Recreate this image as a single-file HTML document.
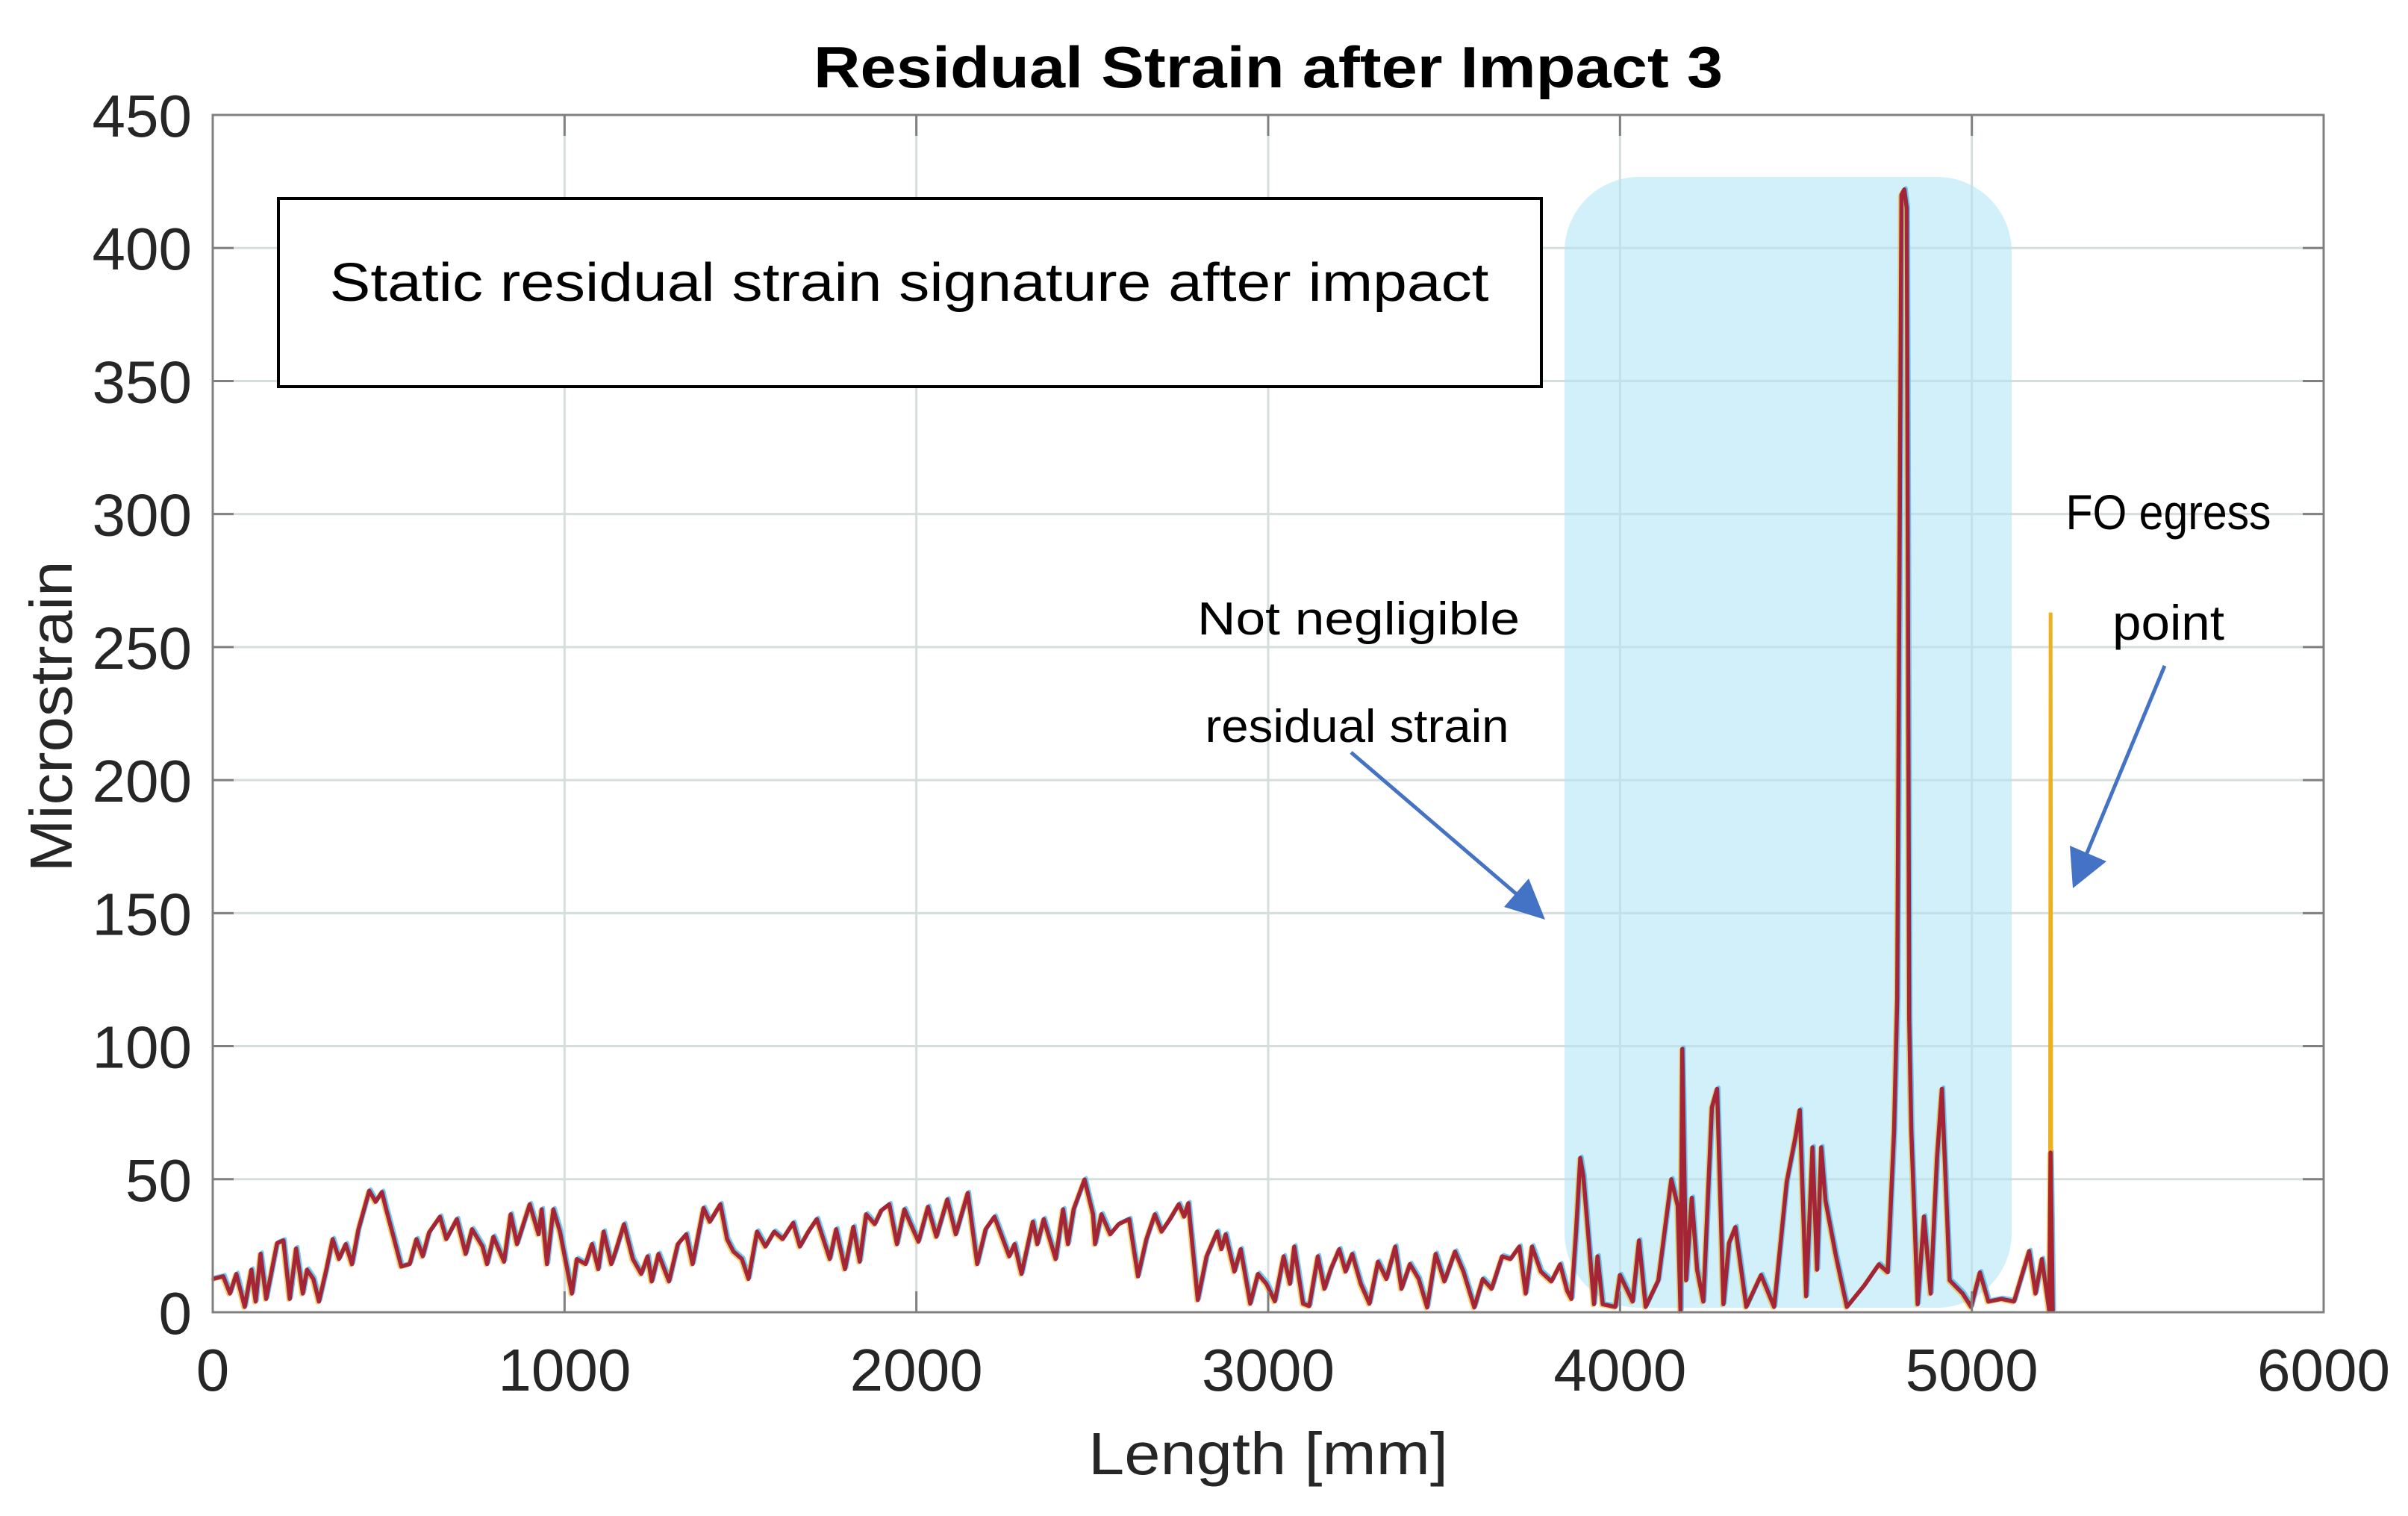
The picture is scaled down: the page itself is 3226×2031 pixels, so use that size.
<!DOCTYPE html>
<html><head><meta charset="utf-8"><style>
html,body{margin:0;padding:0;background:#fff}
svg{display:block}
text{font-family:"Liberation Sans",sans-serif}
</style></head><body>
<svg id="chart" width="3226" height="2031" viewBox="0 0 3226 2031" xmlns="http://www.w3.org/2000/svg">
<rect width="3226" height="2031" fill="#fff"/>
<g id="grid"></g>
<rect x="2096" y="237" width="599" height="1515" rx="100" ry="100" fill="#cdeef9" opacity="0.9"/>
<g id="gridover" opacity="0.2"></g>
<g id="series"></g>
<rect x="285" y="154" width="2828" height="1604" fill="none" stroke="#808080" stroke-width="3"/>
<g id="ticks"></g>
<text x="1699" y="117" text-anchor="middle" font-size="78" font-weight="bold" textLength="1218" lengthAdjust="spacingAndGlyphs">Residual Strain after Impact 3</text>
<text x="1699" y="1975" text-anchor="middle" font-size="80" fill="#262626" textLength="482" lengthAdjust="spacingAndGlyphs">Length [mm]</text>
<text transform="translate(96,960) rotate(-90)" text-anchor="middle" font-size="80" fill="#262626" textLength="417" lengthAdjust="spacingAndGlyphs">Microstrain</text>
<g>
<rect x="373" y="266" width="1692" height="252" fill="#fff" stroke="#000" stroke-width="4"/>
<text x="1218" y="403" text-anchor="middle" font-size="72" textLength="1553" lengthAdjust="spacingAndGlyphs">Static residual strain signature after impact</text>
</g>
<text x="1820" y="850" text-anchor="middle" font-size="62" textLength="432" lengthAdjust="spacingAndGlyphs">Not negligible</text>
<text x="1818" y="994" text-anchor="middle" font-size="62" textLength="407" lengthAdjust="spacingAndGlyphs">residual strain</text>
<text x="2905" y="709" text-anchor="middle" font-size="66" textLength="275" lengthAdjust="spacingAndGlyphs">FO egress</text>
<text x="2905" y="857" text-anchor="middle" font-size="66" textLength="150" lengthAdjust="spacingAndGlyphs">point</text>
<g>
<line x1="1810" y1="1008" x2="2040" y2="1205" stroke="#4472c4" stroke-width="5"/>
<polygon points="2070,1232 2015,1215 2048,1177" fill="#4472c4"/>
</g>
<g>
<line x1="2900" y1="892" x2="2795" y2="1145" stroke="#4472c4" stroke-width="5"/>
<polygon points="2777,1190 2773,1133 2822,1154" fill="#4472c4"/>
</g>
</svg>
<script>
const xTicks=[0,1000,2000,3000,4000,5000,6000];
const yTicks=[0,50,100,150,200,250,300,350,400,450];
const lengthMm=[0,30,49,67,91,110,122,136,152,183,201,219,237,256,268,286,302,323,341,359,378,396,414,445,463,481,493,512,536,560,579,597,615,646,664,694,719,737,767,780,798,828,847,865,901,926,935,950,968,987,1021,1035,1060,1078,1096,1111,1133,1145,1169,1194,1218,1236,1248,1267,1297,1322,1346,1364,1395,1413,1443,1462,1480,1504,1523,1547,1571,1596,1620,1650,1669,1693,1717,1754,1772,1797,1821,1839,1857,1882,1900,1923,1945,1966,1984,2006,2033,2057,2088,2112,2146,2173,2197,2222,2246,2264,2279,2299,2331,2344,2362,2396,2417,2431,2447,2478,2502,2508,2526,2551,2575,2605,2630,2654,2678,2697,2721,2746,2761,2773,2800,2825,2855,2867,2879,2904,2922,2949,2971,2995,3019,3044,3062,3074,3099,3117,3141,3160,3178,3202,3220,3239,3263,3288,3312,3336,3361,3379,3403,3428,3452,3476,3501,3531,3555,3586,3610,3635,3665,3689,3714,3732,3750,3775,3805,3830,3850,3862,3875,3887,3896,3926,3936,3951,3987,4000,4036,4054,4073,4109,4146,4164,4172,4177,4188,4204,4219,4237,4261,4276,4294,4310,4328,4359,4401,4438,4474,4499,4511,4529,4547,4560,4572,4584,4614,4645,4694,4736,4761,4779,4788,4800,4808,4815,4822,4828,4846,4864,4883,4901,4915,4937,4974,4998,5023,5047,5084,5120,5163,5181,5199,5220,5224,5230];
const strain=[12.5,13.5,7,14.4,2,16,4,22,5,26,27,5,24,7,16,12.5,4,16,27.5,20,25.6,18,31,45.7,41.5,45.2,38.7,29.3,17.2,18.1,27.5,21,30,35.9,27.5,35,21.9,31.2,24.7,18.1,28.4,19,36.8,25.6,40.6,29.3,38.7,18.1,38.7,30.3,7,20,18.1,25.6,16.2,30.3,18.1,22.8,33.1,20,14.4,21,11.6,21.9,11.6,25.6,29.3,18.1,39.2,34,40.6,27.5,22.8,20,12.5,30.3,24.7,30.3,27.5,33.6,24.7,30.3,35,20,31.2,16.2,32.1,19,36.8,33.1,38.2,40.6,25.6,38.7,33.1,26.5,39.6,28.4,42.4,29.3,44.8,18.1,31.2,35.9,27.5,21,25.6,14.4,34,25.6,35,20,38.7,25.6,38.7,49.9,36.8,25.6,36.8,29.3,33.1,35,13.5,27.5,36.8,30.3,35,40.6,35.9,41,4.6,21,30.3,23.7,29.3,15.3,23.7,3.2,14.4,10.7,4.1,21,10.7,24.7,3.2,2.3,21,8.8,16.2,23.7,15.3,21.9,10.7,3.2,19,12.5,24.7,8.8,18.1,12.5,1.8,21.9,11.6,22.8,15.3,1.8,12.5,8.8,21,20,24.7,7,24.7,15.3,11.6,18,8,5,30,58,51,3,21,3,2,14,4,27,2,12,50,40,0.5,99,12,43,16,4,77,84,3,26,32,2,14,2,49,66,76,6,62,16,62,42,21,2,10,18,15,68,118,420,422,415,110,68,3,36,7,58,84,12,7,2,15,4,5,4,23,7,20,0.5,60,0];
const egressMm=[5222,5224,5226];
const egressStrain=[5,263,0];
const L=285,R=3113,T=154,B=1758;
const xs=v=>L+(v-0)/(6000-0)*(R-L);
const ys=v=>B-(v-0)/(450-0)*(B-T);
const NS="http://www.w3.org/2000/svg";
function mk(tag,attrs,parent){const e=document.createElementNS(NS,tag);for(const k in attrs)e.setAttribute(k,attrs[k]);parent.appendChild(e);return e;}
const grid=document.getElementById('grid'),gov=document.getElementById('gridover'),ticks=document.getElementById('ticks'),series=document.getElementById('series');
xTicks.forEach(t=>{
  const g=mk('line',{x1:xs(t),x2:xs(t),y1:T,y2:B,stroke:'#ebebeb','stroke-width':3},grid);
  
  
  mk('line',{x1:xs(t),x2:xs(t),y1:T,y2:B,stroke:'#8aa','stroke-width':3},gov);
  const a=mk('line',{x1:xs(t),x2:xs(t),y1:B,y2:B-28,stroke:'#808080','stroke-width':3},ticks);
  
  
  mk('line',{x1:xs(t),x2:xs(t),y1:T,y2:T+28,stroke:'#808080','stroke-width':3},ticks);
  const tx=mk('text',{x:xs(t),y:1863,'text-anchor':'middle','font-size':80,fill:'#262626'},ticks);
  tx.textContent=t;
  
  
});
yTicks.forEach(t=>{
  const g=mk('line',{x1:L,x2:R,y1:ys(t),y2:ys(t),stroke:'#ebebeb','stroke-width':3},grid);
  
  
  mk('line',{x1:L,x2:R,y1:ys(t),y2:ys(t),stroke:'#8aa','stroke-width':3},gov);
  const a=mk('line',{x1:L,x2:L+28,y1:ys(t),y2:ys(t),stroke:'#808080','stroke-width':3},ticks);
  
  
  mk('line',{x1:R,x2:R-28,y1:ys(t),y2:ys(t),stroke:'#808080','stroke-width':3},ticks);
  const tx=mk('text',{x:257,y:ys(t)+29,'text-anchor':'end','font-size':80,fill:'#262626'},ticks);
  tx.textContent=t;
  
  
});
function pts(xa,ya,dx,dy){return xa.map((v,i)=>(xs(v)+dx).toFixed(1)+','+(ys(ya[i])+dy).toFixed(1)).join(' ');}
const s1=mk('polyline',{points:pts(lengthMm,strain,2,-2),fill:'none',stroke:'#4dbeee','stroke-width':5,'stroke-linejoin':'round',opacity:0.8},series);


const s2=mk('polyline',{points:pts(lengthMm,strain,-2,1.5),fill:'none',stroke:'#edb120','stroke-width':5,'stroke-linejoin':'round',opacity:0.6},series);


const s3=mk('polyline',{points:pts(egressMm,egressStrain,0,0),fill:'none',stroke:'#edb120','stroke-width':5},series);


const s4=mk('polyline',{points:pts(lengthMm,strain,0,0),fill:'none',stroke:'#a2142f','stroke-width':5.5,'stroke-linejoin':'round',opacity:0.9},series);


</script>
</body></html>
